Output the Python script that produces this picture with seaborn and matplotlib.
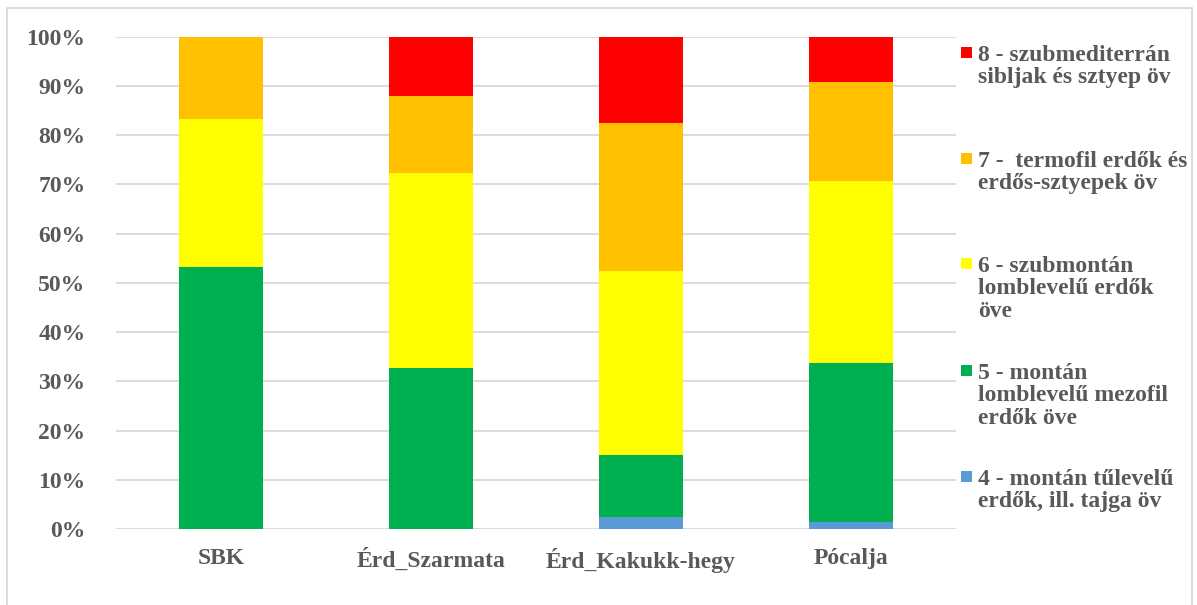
import numpy as np
import pandas as pd
import matplotlib
matplotlib.use("Agg")
import matplotlib.pyplot as plt
from matplotlib.patches import Rectangle
import seaborn as sns

# Share of species per vegetation belt (percent) at each site
sites = ["SBK", "Érd_Szarmata", "Érd_Kakukk-hegy", "Pócalja"]
belt4 = [0.0, 0.0, 2.5, 1.5]
belt5 = [53.3, 32.8, 12.5, 32.3]
belt6 = [30.0, 39.6, 37.5, 36.9]
belt7 = [16.7, 15.5, 30.0, 20.0]
belt8 = [0.0, 12.1, 17.5, 9.3]

series_labels = [
    "4 - montán tűlevelű\nerdők, ill. tajga öv",
    "5 - montán\nlomblevelű mezofil\nerdők öve",
    "6 - szubmontán\nlomblevelű erdők\növe",
    "7 -  termofil erdők és\nerdős-sztyepek öv",
    "8 - szubmediterrán\nsibljak és sztyep öv",
]
series_colors = ["#5b9bd5", "#00b050", "#ffff00", "#ffc000", "#ff0000"]
tick_labels = ["0%", "10%", "20%", "30%", "40%", "50%", "60%", "70%", "80%", "90%", "100%"]

sns.set_theme(style="white")
plt.rcParams["font.family"] = ["Liberation Serif", "DejaVu Serif"]
plt.rcParams["font.weight"] = "bold"
text_color = "#595959"

fig = plt.figure(figsize=(11.97, 6.05), dpi=100)
ax = fig.add_axes([116 / 1197, 1 - 529 / 605, 840 / 1197, (529 - 36.7) / 605])

layers = np.array([belt4, belt5, belt6, belt7, belt8])
cumulative = np.cumsum(layers, axis=0)

# Stacked bars: draw cumulative totals from the top layer down
for i in range(len(layers) - 1, -1, -1):
    df = pd.DataFrame({"site": sites, "value": cumulative[i]})
    sns.barplot(data=df, x="site", y="value", color=series_colors[i],
                width=0.4, saturation=1, ax=ax, zorder=3, linewidth=0)

ax.set_xlim(-0.5, len(sites) - 0.5)
ax.set_ylim(0, 100)
ax.set_yticks(np.arange(0, 101, 10))
ax.set_yticklabels(tick_labels)
ax.set_xlabel("")
ax.set_ylabel("")
ax.yaxis.grid(True, color="#d9d9d9", linewidth=1.3, zorder=0)
ax.xaxis.grid(False)
for s in ax.spines.values():
    s.set_visible(False)
ax.tick_params(axis="y", length=0, pad=22, labelsize=17, labelcolor=text_color)
ax.tick_params(axis="x", length=0, pad=14, labelsize=17, labelcolor=text_color)
for lab in ax.get_xticklabels() + ax.get_yticklabels():
    lab.set_fontweight("bold")

# Legend entries, top to bottom in reverse series order
entry_tops = [46, 152, 257, 364, 470]
for k, idx in enumerate(range(len(series_labels) - 1, -1, -1)):
    y_top = entry_tops[k]
    fig.patches.append(Rectangle((961 / 1197, 1 - (y_top + 12) / 605), 11 / 1197, 11 / 605,
                                 transform=fig.transFigure, facecolor=series_colors[idx],
                                 edgecolor="none"))
    fig.text(978 / 1197, 1 - (y_top - 1) / 605, series_labels[idx], ha="left", va="top",
             fontsize=17, fontweight="bold", color=text_color, linespacing=1.08)

# Chart frame
fig.patches.append(Rectangle((7 / 1197, -0.02), 1185 / 1197, 1 - 8 / 605 + 0.02,
                             transform=fig.transFigure, facecolor="none",
                             edgecolor="#d9d9d9", linewidth=1.3))

fig.savefig("out.png", dpi=100, facecolor="white")
